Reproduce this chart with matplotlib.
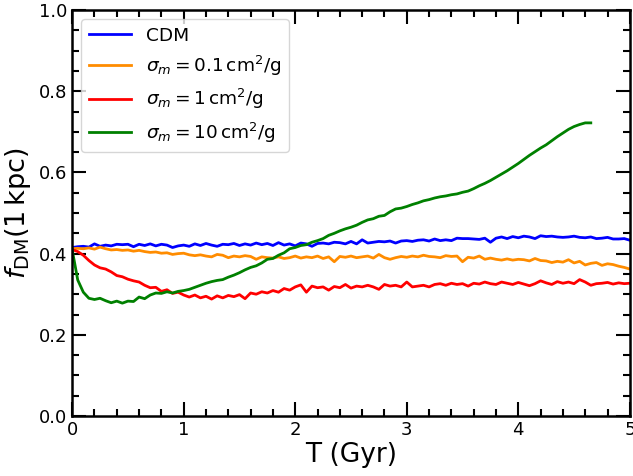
import numpy as np
import matplotlib
matplotlib.use('Agg')
import matplotlib.pyplot as plt
from matplotlib.ticker import MultipleLocator

# time grid (Gyr), sampled every 0.05
t = np.round(np.arange(0, 5.0001, 0.05), 2)

f_cdm = [0.415, 0.417, 0.418, 0.416, 0.424, 0.418, 0.421, 0.419, 0.423, 0.422,
         0.423, 0.417, 0.423, 0.420, 0.424, 0.419, 0.423, 0.421, 0.415, 0.419,
         0.421, 0.418, 0.424, 0.420, 0.425, 0.421, 0.418, 0.423, 0.422, 0.425,
         0.420, 0.424, 0.421, 0.426, 0.422, 0.425, 0.420, 0.427, 0.421, 0.424,
         0.419, 0.426, 0.424, 0.418, 0.425, 0.426, 0.424, 0.428, 0.427, 0.424,
         0.430, 0.424, 0.434, 0.426, 0.428, 0.430, 0.429, 0.431, 0.426, 0.431,
         0.432, 0.430, 0.433, 0.434, 0.431, 0.436, 0.432, 0.434, 0.432, 0.438,
         0.437, 0.437, 0.436, 0.435, 0.438, 0.428, 0.438, 0.441, 0.437, 0.442,
         0.439, 0.443, 0.441, 0.437, 0.444, 0.442, 0.443, 0.441, 0.440, 0.441,
         0.443, 0.440, 0.439, 0.441, 0.437, 0.438, 0.440, 0.436, 0.436, 0.437,
         0.433]

f_01 = [0.412, 0.413, 0.412, 0.414, 0.411, 0.416, 0.412, 0.409, 0.410, 0.408,
        0.409, 0.406, 0.408, 0.405, 0.403, 0.404, 0.401, 0.402, 0.398, 0.400,
        0.401, 0.397, 0.395, 0.397, 0.394, 0.392, 0.398, 0.396, 0.390, 0.394,
        0.392, 0.395, 0.393, 0.386, 0.392, 0.390, 0.389, 0.392, 0.388, 0.390,
        0.394, 0.389, 0.392, 0.390, 0.394, 0.388, 0.392, 0.380, 0.393, 0.391,
        0.394, 0.390, 0.392, 0.394, 0.389, 0.398, 0.390, 0.386, 0.390, 0.393,
        0.391, 0.394, 0.392, 0.396, 0.393, 0.392, 0.390, 0.395, 0.393, 0.394,
        0.380, 0.391, 0.389, 0.394, 0.386, 0.389, 0.386, 0.384, 0.387, 0.384,
        0.386, 0.385, 0.382, 0.388, 0.383, 0.382, 0.378, 0.381, 0.379, 0.385,
        0.377, 0.381, 0.372, 0.376, 0.378, 0.371, 0.375, 0.373, 0.369, 0.366,
        0.362]

f_1 = [0.410, 0.405, 0.396, 0.383, 0.372, 0.365, 0.362, 0.355, 0.346, 0.343,
       0.337, 0.333, 0.330, 0.322, 0.316, 0.317, 0.307, 0.311, 0.302, 0.305,
       0.298, 0.293, 0.298, 0.291, 0.295, 0.288, 0.296, 0.291, 0.297, 0.294,
       0.299, 0.289, 0.303, 0.300, 0.306, 0.303, 0.309, 0.305, 0.314, 0.310,
       0.318, 0.323, 0.305, 0.320, 0.316, 0.318, 0.310, 0.319, 0.316, 0.324,
       0.315, 0.320, 0.318, 0.322, 0.318, 0.312, 0.324, 0.320, 0.322, 0.318,
       0.330, 0.318, 0.320, 0.322, 0.318, 0.324, 0.326, 0.322, 0.327, 0.324,
       0.326, 0.320, 0.327, 0.325, 0.330, 0.326, 0.324, 0.330, 0.327, 0.324,
       0.329, 0.325, 0.321, 0.326, 0.333, 0.328, 0.324, 0.331, 0.327, 0.330,
       0.326, 0.336, 0.330, 0.322, 0.326, 0.327, 0.329, 0.325, 0.328, 0.326,
       0.327]

# sigma = 10 run stops at ~4.65 Gyr
f_10 = [0.410, 0.335, 0.305, 0.290, 0.287, 0.290, 0.284, 0.279, 0.283, 0.278,
        0.283, 0.282, 0.293, 0.289, 0.298, 0.303, 0.302, 0.306, 0.303, 0.307,
        0.309, 0.312, 0.317, 0.322, 0.327, 0.331, 0.334, 0.336, 0.342, 0.347,
        0.353, 0.360, 0.366, 0.370, 0.377, 0.386, 0.388, 0.396, 0.402, 0.412,
        0.415, 0.420, 0.422, 0.428, 0.432, 0.437, 0.445, 0.450, 0.456, 0.461,
        0.465, 0.470, 0.477, 0.483, 0.486, 0.492, 0.494, 0.503, 0.510, 0.512,
        0.516, 0.521, 0.525, 0.530, 0.533, 0.537, 0.540, 0.542, 0.545, 0.547,
        0.551, 0.554, 0.560, 0.567, 0.573, 0.580, 0.588, 0.596, 0.604, 0.613,
        0.622, 0.632, 0.642, 0.651, 0.660, 0.668, 0.678, 0.688, 0.697, 0.706,
        0.713, 0.718, 0.722, 0.722]

fig = plt.figure(figsize=(6.33, 4.76), dpi=100)
ax = fig.add_axes([0.114, 0.126, 0.881, 0.853])

ax.plot(t, f_cdm, color='blue', lw=2, label='CDM')
ax.plot(t, f_01, color='darkorange', lw=2, label=r'$\sigma_m = 0.1\,{\rm cm^2/g}$')
ax.plot(t, f_1, color='red', lw=2, label=r'$\sigma_m = 1\,{\rm cm^2/g}$')
ax.plot(t[:len(f_10)], f_10, color='green', lw=2, label=r'$\sigma_m = 10\,{\rm cm^2/g}$')

ax.set_xlim(0, 5)
ax.set_ylim(0, 1)
ax.xaxis.set_major_locator(MultipleLocator(1))
ax.xaxis.set_minor_locator(MultipleLocator(0.2))
ax.yaxis.set_major_locator(MultipleLocator(0.2))
ax.yaxis.set_minor_locator(MultipleLocator(0.05))
ax.tick_params(which='both', direction='in', top=True, right=True, labelsize=13, width=1.5)
ax.tick_params(which='major', length=10)
ax.tick_params(which='minor', length=5)
for s in ax.spines.values():
    s.set_linewidth(1.8)

ax.set_xlabel('T (Gyr)', fontsize=19, labelpad=2)
ax.set_ylabel(r'$f_{\rm DM}(1\,{\rm kpc})$', fontsize=19.5, labelpad=4)
ax.legend(loc='upper left', fontsize=13.3, handlelength=2.3)

fig.savefig('out.png', dpi=100)
